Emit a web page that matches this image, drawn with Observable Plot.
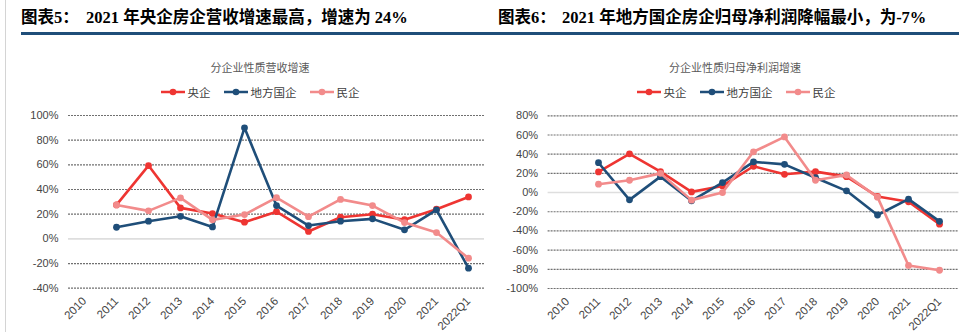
<!DOCTYPE html>
<html><head><meta charset="utf-8">
<script src="https://cdn.jsdelivr.net/npm/d3@7"></script>
<script src="https://cdn.jsdelivr.net/npm/@observablehq/plot@0.6"></script>
<style>
body{margin:0;background:#fff;width:959px;height:332px;overflow:hidden;position:relative;font-family:"Liberation Sans","Noto Sans CJK SC",sans-serif;}
.vline{position:absolute;left:5px;top:0;width:1px;height:332px;background:#d4d4d4;}
.rule{position:absolute;left:21px;top:32px;width:938px;height:3px;background:#1f4e79;}
.title{position:absolute;top:8px;font-family:"Liberation Serif","Noto Sans CJK SC",serif;font-weight:bold;font-size:16.5px;color:#000;white-space:nowrap;line-height:20px;}
.sub{position:absolute;top:60px;font-size:11px;color:#595959;font-family:"Noto Sans CJK SC",sans-serif;text-align:center;width:300px;line-height:14px;}
.legend{position:absolute;top:85px;width:300px;display:flex;justify-content:center;gap:13px;font-size:11.5px;color:#404040;font-family:"Noto Sans CJK SC",sans-serif;line-height:14px;}
.legend .item{display:flex;align-items:center;}
.legend svg{margin-right:3px;}
.plot{position:absolute;top:105px;}
</style>
</head><body>
<div class="vline"></div>
<div class="rule"></div>
<div id="t1a" class="title" style="left:21px">图表5：</div>
<div id="t1b" class="title" style="left:86px"></div>
<div id="t2a" class="title" style="left:498px">图表6：</div>
<div id="t2b" class="title" style="left:562px"></div>
<div id="s1" class="sub" style="left:110px"></div>
<div id="s2" class="sub" style="left:585px"></div>
<div id="l1" class="legend" style="left:110px"></div>
<div id="l2" class="legend" style="left:586px"></div>
<div id="p1" class="plot" style="left:0px"></div>
<div id="p2" class="plot" style="left:480px"></div>
<script>
// ---- data ----
const categories = ["2010","2011","2012","2013","2014","2015","2016","2017","2018","2019","2020","2021","2022Q1"];
const seriesNames = ["央企","地方国企","民企"];
const seriesColors = ["#ee3532","#1f4e79","#f28b8b"];

// 营收增速 (%)
const revCentral = [null, 27.5, 59.4, 25.1, 20.5, 13.5, 22.0, 6.0, 17.5, 20.0, 15.5, 24.0, 34.0];
const revLocal   = [null, 9.4, 14.3, 18.3, 9.7, 90.0, 27.0, 10.8, 14.3, 16.2, 7.3, 23.5, -23.8];
const revPrivate = [null, 27.5, 22.7, 33.2, 15.4, 19.7, 33.4, 18.0, 32.0, 27.0, 13.2, 5.1, -15.7];

// 归母净利润增速 (%)
const npCentral = [null, 21.5, 40.4, 21.8, 0.7, 6.9, 27.4, 19.0, 21.8, 16.6, -4.1, -9.6, -33.0];
const npLocal   = [null, 31.1, -7.6, 16.6, -8.6, 10.4, 32.0, 29.4, 15.5, 1.8, -23.4, -6.9, -30.0];
const npPrivate = [null, 8.7, 12.8, 20.0, -7.9, 0.0, 42.5, 58.0, 12.8, 18.3, -4.8, -76.0, -81.0];

const revTicks = [-40,-20,0,20,40,60,80,100];
const npTicks = [-100,-80,-60,-40,-20,0,20,40,60,80];

const title1b = "2021 年央企房企营收增速最高，增速为 24%";
const title2b = "2021 年地方国企房企归母净利润降幅最小，为-7%";
const sub1 = "分企业性质营收增速";
const sub2 = "分企业性质归母净利润增速";

// ---- text ----
document.getElementById("t1b").textContent = title1b;
document.getElementById("t2b").textContent = title2b;
document.getElementById("s1").textContent = sub1;
document.getElementById("s2").textContent = sub2;

function buildLegend(el) {
  seriesNames.forEach((name, i) => {
    const item = document.createElement("div");
    item.className = "item";
    item.innerHTML = `<svg width="24" height="10"><line x1="0" x2="24" y1="5" y2="5" stroke="${seriesColors[i]}" stroke-width="2.5"/><circle cx="12" cy="5" r="3.3" fill="${seriesColors[i]}"/></svg><span>${name}</span>`;
    el.appendChild(item);
  });
}
buildLegend(document.getElementById("l1"));
buildLegend(document.getElementById("l2"));

function makePlot(opts, seriesValues) {
  const marks = [
    Plot.ruleY(opts.ticks.filter(d => d !== 0), {stroke: "#707070", strokeDasharray: "2,1", strokeWidth: 1.2}),
    Plot.ruleY([0], {stroke: "#dedede", strokeWidth: 1.6}),
    Plot.axisY({ticks: opts.ticks, tickSize: 0, tickPadding: 10, tickFormat: d => d + "%", fontSize: 11, label: null}),
    Plot.axisX({tickSize: 0, tickRotate: -45, tickPadding: 11, fontSize: 11.5, label: null})
  ];
  seriesValues.forEach((vals, i) => {
    const rows = categories.map((c, j) => ({cat: c, value: vals[j]})).filter(d => d.value != null);
    marks.push(Plot.line(rows, {x: "cat", y: "value", stroke: seriesColors[i], strokeWidth: 2.6}));
    marks.push(Plot.dot(rows, {x: "cat", y: "value", fill: seriesColors[i], r: 3.4}));
  });
  return Plot.plot({
    width: opts.width, height: 227,
    marginLeft: opts.marginLeft, marginRight: opts.marginRight,
    marginTop: opts.marginTop, marginBottom: opts.marginBottom,
    style: {fontFamily: "'Liberation Sans', Arial, sans-serif", color: "#454545", background: "transparent", overflow: "visible"},
    x: {type: "point", domain: categories, padding: 0.5},
    y: {domain: opts.domain},
    marks
  });
}

document.getElementById("p1").appendChild(makePlot(
  {width: 484, marginLeft: 68, marginRight: 0, marginTop: 10, marginBottom: 44.3, domain: [-40, 100], ticks: revTicks},
  [revCentral, revLocal, revPrivate]));
document.getElementById("p2").appendChild(makePlot(
  {width: 479, marginLeft: 67.6, marginRight: 0.5, marginTop: 10.3, marginBottom: 44, domain: [-100, 80], ticks: npTicks},
  [npCentral, npLocal, npPrivate]));
</script>
</body></html>
